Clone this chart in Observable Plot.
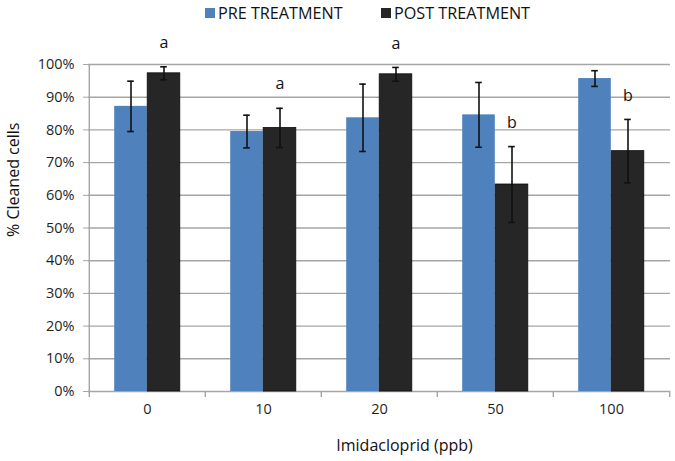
<!DOCTYPE html>
<html>
<head>
<meta charset="utf-8">
<script src="https://cdn.jsdelivr.net/npm/d3@7"></script>
<script src="https://cdn.jsdelivr.net/npm/@observablehq/plot@0.6"></script>
<style>
  html, body { margin: 0; padding: 0; background: #fff; }
  body { width: 675px; height: 461px; overflow: hidden; font-family: "Open Sans", sans-serif; }
  #legend { height: 28px; position: relative; font-size: 16.2px; color: #111; }
  #legend .item { position: absolute; top: 1px; display: flex; align-items: center; white-space: nowrap; line-height: 24px; }
  #legend .sw { width: 10px; height: 10px; margin-right: 3px; }
  #chart svg [aria-label="y-axis tick"], #chart svg [aria-label="y-axis"] .tick line { stroke: #a6a6a6; }
</style>
</head>
<body>
<div id="legend"></div>
<div id="chart"></div>
<script>
// ---- data ----
const categories = ["0", "10", "20", "50", "100"];
const seriesNames = ["PRE TREATMENT", "POST TREATMENT"];
const seriesColors = ["#4f81bd", "#262626"];
const preMean = [87.2, 79.5, 83.7, 84.6, 95.7];
const preErr  = [7.7, 5.0, 10.3, 9.9, 2.4];
const postMean = [97.3, 80.6, 97.0, 63.3, 73.5];
const postErr  = [2.0, 6.0, 2.1, 11.6, 9.7];
const postLetters = ["a", "a", "a", "b", "b"];
const yTicks = [0, 10, 20, 30, 40, 50, 60, 70, 80, 90, 100];
const xLabel = "Imidacloprid (ppb)";
const yLabel = "% Cleaned cells";

const pre = categories.map((c, i) => ({cat: c, mean: preMean[i], err: preErr[i]}));
const post = categories.map((c, i) => ({cat: c, mean: postMean[i], err: postErr[i], letter: postLetters[i]}));

// ---- legend ----
const legend = document.getElementById("legend");
const legendX = [205, 381];
seriesNames.forEach((name, i) => {
  const it = document.createElement("div");
  it.className = "item";
  it.style.left = legendX[i] + "px";
  it.innerHTML = `<span class="sw" style="background:${seriesColors[i]}"></span><span>${name}</span>`;
  legend.appendChild(it);
});

// ---- layout ----
const width = 675, height = 433;
const marginLeft = 88, marginRight = 5, marginTop = 36, marginBottom = 70;
const bw = (width - marginLeft - marginRight) / categories.length;
const half = bw / 2;
const barW = 33;
const outer = half - barW;
const off = barW / 2;
const cap = 3.5;
const grid = "#a6a6a6";

const chart = Plot.plot({
  width, height, marginLeft, marginRight, marginTop, marginBottom,
  style: {fontFamily: "Open Sans", fontSize: "14.5px", color: "#1f1f1f", background: "#fff"},
  x: {domain: categories, padding: 0, tickSize: 0, tickPadding: 12, label: null},
  y: {domain: [0, 100], ticks: yTicks, tickFormat: d => d + "%", tickSize: 5, tickPadding: 9, label: null},
  marks: [
    Plot.ruleY(yTicks.filter(t => t > 0), {stroke: grid, strokeWidth: 1.4}),
    Plot.ruleX([categories[0]], {x: d => d, dx: -half, stroke: grid, strokeWidth: 1.4}),
    Plot.ruleY([0], {stroke: grid, strokeWidth: 1.4}),
    Plot.ruleX(categories, {x: d => d, dx: -half, y1: () => 0, y2: () => 0, insetBottom: -6, stroke: grid, strokeWidth: 1.4}),
    Plot.ruleX([categories[categories.length - 1]], {x: d => d, dx: half, y1: () => 0, y2: () => 0, insetBottom: -6, stroke: grid, strokeWidth: 1.4}),
    Plot.barY(pre, {x: "cat", y: "mean", fill: seriesColors[0], insetLeft: outer, insetRight: half}),
    Plot.barY(post, {x: "cat", y: "mean", fill: seriesColors[1], stroke: "#0d0d0d", strokeWidth: 0.8, insetLeft: half, insetRight: outer}),
    // error bars
    Plot.ruleX(pre, {x: "cat", y1: d => d.mean - d.err, y2: d => d.mean + d.err, dx: -off, stroke: "#111", strokeWidth: 1.6}),
    Plot.tickY(pre, {x: "cat", y: d => d.mean + d.err, dx: -off, insetLeft: half - cap, insetRight: half - cap, stroke: "#111", strokeWidth: 1.6}),
    Plot.tickY(pre, {x: "cat", y: d => d.mean - d.err, dx: -off, insetLeft: half - cap, insetRight: half - cap, stroke: "#111", strokeWidth: 1.6}),
    Plot.ruleX(post, {x: "cat", y1: d => d.mean - d.err, y2: d => d.mean + d.err, dx: off, stroke: "#111", strokeWidth: 1.6}),
    Plot.tickY(post, {x: "cat", y: d => d.mean + d.err, dx: off, insetLeft: half - cap, insetRight: half - cap, stroke: "#111", strokeWidth: 1.6}),
    Plot.tickY(post, {x: "cat", y: d => d.mean - d.err, dx: off, insetLeft: half - cap, insetRight: half - cap, stroke: "#111", strokeWidth: 1.6}),
    // significance letters
    Plot.text(post, {x: "cat", y: d => d.mean + d.err, text: "letter", dx: off, dy: -24, fontSize: 16, fill: "#111"}),
    // axis titles
    Plot.text([xLabel], {text: d => d, frameAnchor: "bottom", lineAnchor: "middle", dx: 25, dy: 54, fontSize: 16, fill: "#111"}),
    Plot.text([yLabel], {text: d => d, frameAnchor: "left", lineAnchor: "middle", rotate: -90, dx: -75, dy: 9, fontSize: 16, fill: "#111"})
  ]
});
document.getElementById("chart").appendChild(chart);
</script>
</body>
</html>
